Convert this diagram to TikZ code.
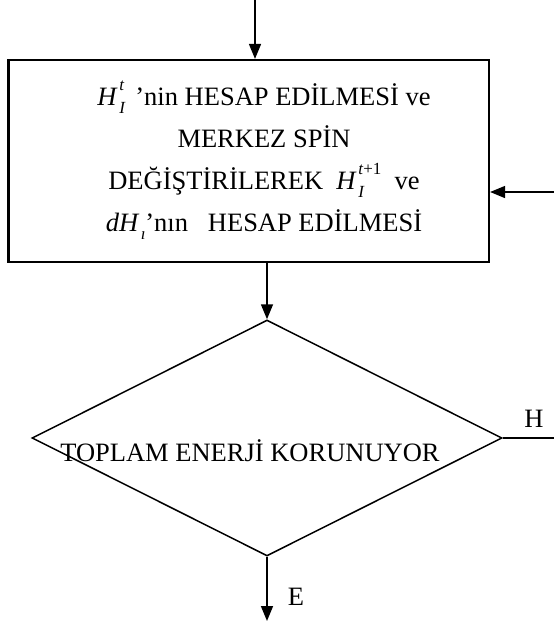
\documentclass[tikz,border=0pt]{standalone}
\usepackage{fontspec}
\setmainfont{Liberation Serif}
\usetikzlibrary{arrows.meta,shapes.geometric}

% italic symbol H with a subscript and a superscript, set in text fonts
\newcommand{\subsup}[2]{\kern1.5pt\rlap{\raisebox{-0.3em}{\fontsize{17}{17}\selectfont #1}}\raisebox{0.55em}{\fontsize{17}{17}\selectfont #2}}
\newcommand{\hvar}[2]{\textit{H}\subsup{\textit{#1}}{#2}}

\begin{document}
\begin{tikzpicture}[x=1pt,y=-1pt,
  every node/.style={font=\fontsize{26.5}{42}\selectfont},
  procbox/.style={draw,line width=2.2pt,rectangle,inner sep=0pt},
  decision/.style={draw,line width=1.5pt,diamond,inner sep=0pt},
  flow/.style={line width=1.5pt,-{Triangle[length=15pt,width=12pt]}},
  plain/.style={line width=1.5pt},
  txt/.style={inner sep=0pt}]
\useasboundingbox (0,0) rectangle (554,622);

% free ends of the incoming and outgoing connectors
\coordinate (entry) at (255,0);
\coordinate (loopin) at (554,192);
\coordinate (noexit) at (554,443);
\coordinate (yesexit) at (270,621);

% process box
\node[procbox,minimum width=480.5pt,minimum height=202pt] (calc) at (248.75,161) {};
\node[txt,align=center,anchor=north] (calctext) at (264,81) {%
  \lineskiplimit=-100pt
  \hvar{I}{\textit{t}}\, ’nin HESAP EDİLMESİ ve\\
  MERKEZ SPİN \\
  DEĞİŞTİRİLEREK\ \ \hvar{I}{\textit{t}+1}\ \ ve\\
  \textit{dH}\subsup{\textit{ı}}{}\,’nın\ \ \ HESAP EDİLMESİ\ };

% decision diamond
\node[decision,minimum width=470pt,minimum height=236pt] (check) at (267,438) {};
\node[txt,anchor=base] (checktext) at (250,461) {TOPLAM ENERJİ KORUNUYOR};

% connectors
\draw[flow] (entry) -- (entry |- calc.north);
\draw[flow] (loopin) -- (loopin -| calc.east);
\draw[flow] (calc.south -| check.north) -- (check.north);
\draw[plain] (check.east) -- (check.east -| noexit);
\draw[flow] (check.south) -- (check.south |- yesexit);

% branch labels
\node[txt,anchor=base] (nolabel) at (534,427) {H};
\node[txt,anchor=base] (yeslabel) at (296,605) {E};
\end{tikzpicture}
\end{document}
